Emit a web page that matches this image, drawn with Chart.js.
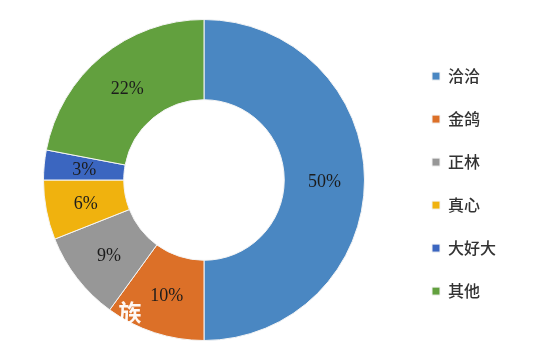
<!DOCTYPE html>
<html lang="zh">
<head>
  <meta charset="UTF-8" />
  <title>市场份额</title>
  <script src="https://cdn.jsdelivr.net/npm/chart.js"></script>
  <style>
    html, body { margin: 0; padding: 0; background: #ffffff; }
    #wrap { width: 554px; height: 353px; position: relative; }
  </style>
</head>
<body>
  <div id="wrap"><canvas id="share"></canvas></div>

  <script>
    const brands = ['洽洽', '金鸽', '正林', '真心', '大好大', '其他'];
    const shares = [50, 10, 9, 6, 3, 22];
    const sliceColors = ['#4a87c2', '#dc7028', '#979797', '#f0b20e', '#3b66c0', '#62a03e'];

    // percent text in the middle of each ring segment
    const sliceLabels = {
      id: 'sliceLabels',
      afterDatasetsDraw(chart) {
        const ctx = chart.ctx;
        const meta = chart.getDatasetMeta(0);
        ctx.save();
        ctx.font = '18px "Liberation Serif", "DejaVu Serif", serif';
        ctx.fillStyle = '#1c1c1c';
        ctx.textAlign = 'center';
        ctx.textBaseline = 'middle';
        meta.data.forEach((arc, i) => {
          const p = arc.tooltipPosition();
          ctx.fillText(shares[i] + '%', p.x, p.y + 2);
        });
        // watermark fragment seen in the source picture
        ctx.font = 'bold 23px "Noto Sans CJK SC", sans-serif';
        ctx.fillStyle = 'rgba(255,255,255,0.95)';
        ctx.fillText('族', 130, 312);
        ctx.restore();
      }
    };

    new Chart(document.getElementById('share'), {
      type: 'doughnut',
      data: {
        labels: brands,
        datasets: [{
          data: shares,
          backgroundColor: sliceColors,
          borderColor: '#f4f4f4',
          borderWidth: 1
        }]
      },
      options: {
        responsive: true,
        maintainAspectRatio: false,
        animation: false,
        cutout: '50%',
        layout: { padding: { left: 3, right: 48, top: 19, bottom: 12 } },
        plugins: {
          tooltip: { enabled: false },
          legend: {
            position: 'right',
            title: { display: true, text: '', padding: 0, font: { size: 6 } },
            labels: {
              boxWidth: 8,
              boxHeight: 8,
              padding: 27,
              color: '#333333',
              font: { family: '"Noto Sans CJK SC", sans-serif', size: 16, weight: '500' }
            }
          }
        }
      },
      plugins: [sliceLabels]
    });
  </script>
</body>
</html>
